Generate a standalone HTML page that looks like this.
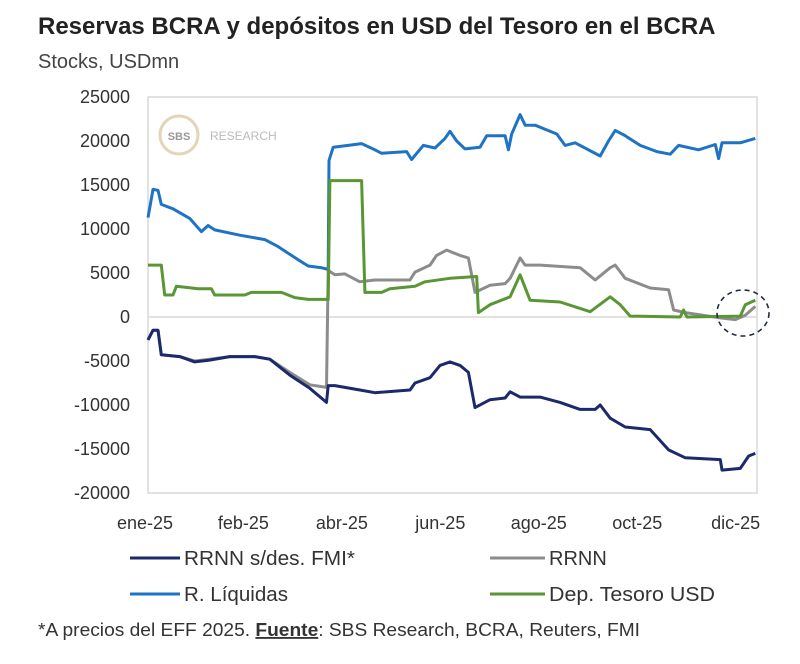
<!DOCTYPE html>
<html><head><meta charset="utf-8"><style>
body{margin:0;width:800px;height:659px;background:#fff;font-family:"Liberation Sans",sans-serif;overflow:hidden}
</style></head><body>
<svg width="800" height="659" xmlns="http://www.w3.org/2000/svg">
<text x="38" y="34" font-size="24" font-weight="bold" fill="#222">Reservas BCRA y depósitos en USD del Tesoro en el BCRA</text>
<text x="38" y="68" font-size="20" fill="#444">Stocks, USDmn</text>
<rect x="148" y="97" width="609" height="396" fill="none" stroke="#d9d9d9" stroke-width="1.5"/>
<g>
<circle cx="179" cy="135" r="19" fill="none" stroke="#e3d6b8" stroke-width="3"/>
<text x="179" y="140" font-size="11" font-weight="bold" fill="#999" text-anchor="middle">SBS</text>
<text x="210" y="140" font-size="12" fill="#bbb">RESEARCH</text>
</g>
<g id="axes"></g>
<g id="series"></g>
<ellipse cx="743" cy="313" rx="26" ry="23" fill="none" stroke="#1f2a44" stroke-width="1.6" stroke-dasharray="5,4"/>
<g>
<line x1="130" y1="558" x2="180" y2="558" stroke="#1b2a6b" stroke-width="3"/>
<text x="184" y="565" font-size="20" fill="#333" textLength="171" lengthAdjust="spacingAndGlyphs">RRNN s/des. FMI*</text>
<line x1="490" y1="558" x2="545" y2="558" stroke="#8c8c8c" stroke-width="3"/>
<text x="549" y="565" font-size="20" fill="#333">RRNN</text>
<line x1="130" y1="594" x2="180" y2="594" stroke="#1e73c4" stroke-width="3"/>
<text x="184" y="601" font-size="20" fill="#333" textLength="104" lengthAdjust="spacingAndGlyphs">R. Líquidas</text>
<line x1="490" y1="594" x2="545" y2="594" stroke="#5a9634" stroke-width="3"/>
<text x="549" y="601" font-size="20" fill="#333" textLength="166" lengthAdjust="spacingAndGlyphs">Dep. Tesoro USD</text>
</g>
<text x="38" y="636" font-size="18.5" fill="#333" textLength="602" lengthAdjust="spacingAndGlyphs">*A precios del EFF 2025. <tspan font-weight="bold" text-decoration="underline">Fuente</tspan>: SBS Research, BCRA, Reuters, FMI</text>
</svg>
<script>
const yTicks=[25000,20000,15000,10000,5000,0,-5000,-10000,-15000,-20000];
const xTickDays=[0,59,118,177,236,295,354];
const xTickLabels=["ene-25","feb-25","abr-25","jun-25","ago-25","oct-25","dic-25"];
const liqDays=[0,3,6,8,15,25,32,36,40,55,70,78,90,96,104,108,108.5,111,120,128,136,140,155,158,165,172,178,181,185,190,199,203,214,216,218,223,226,232,245,250,256,271,276,280,286,295,305,313,318,330,340,342,344,355,364];
const liqVals=[11300,14500,14400,12800,12300,11200,9700,10400,9900,9300,8800,8000,6500,5800,5600,5400,17800,19300,19500,19700,19000,18600,18800,17900,19500,19200,20300,21100,20000,19100,19300,20600,20600,19000,20800,23000,21800,21800,20800,19500,19800,18300,20000,21200,20600,19500,18800,18500,19500,19000,19600,18000,19800,19800,20300];
const depDays=[0,8,10,15,17,30,38,40,58,62,80,88,96,108,109,128,130,140,145,160,166,181,197,198,205,217,223,229,247,265,277,283,289,319,321,323,355,358,364];
const depVals=[5900,5900,2500,2500,3500,3200,3200,2500,2500,2800,2800,2200,2000,2000,15500,15500,2800,2800,3200,3500,4000,4400,4600,500,1400,2300,4800,1900,1700,600,2300,1400,100,0,800,0,100,1400,1900];
const rrnnDays=[0,3,6,8,19,28,37,49,64,73,85,97,107,108,112,118,127,136,157,160,169,173,179,187,192,196,205,214,217,223,226,235,259,268,277,280,286,301,312,315,322,343,352,358,364];
const rrnnVals=[-2600,-1500,-1500,-4300,-4500,-5000,-4800,-4500,-4500,-4800,-6300,-7700,-8000,5300,4800,4900,4000,4200,4200,5100,5900,7000,7600,7000,6700,2800,3600,3800,4400,6700,5900,5900,5600,4200,5600,5900,4400,3300,3100,800,500,-100,-300,200,1200];
const resDays=[0,3,6,8,19,28,37,49,64,73,85,97,107,108,112,127,136,157,160,169,175,181,187,192,196,205,214,217,223,235,247,259,268,271,277,286,301,312,322,343,344,355,360,364];
const resVals=[-2600,-1500,-1500,-4300,-4500,-5100,-4900,-4500,-4500,-4800,-6600,-8100,-9700,-7800,-7800,-8300,-8600,-8300,-7500,-6900,-5500,-5100,-5500,-6300,-10300,-9400,-9200,-8500,-9100,-9100,-9700,-10500,-10500,-10000,-11500,-12500,-12800,-15100,-16000,-16200,-17400,-17200,-15800,-15500];
const X0=148,X1=757,Y0=97,Y1=493,YMAX=25000,YMIN=-20000,DMAX=365;
const xs=d=>X0+(d/DMAX)*(X1-X0);
const ys=v=>Y0+(YMAX-v)/(YMAX-YMIN)*(Y1-Y0);
const NS="http://www.w3.org/2000/svg";
const axes=document.getElementById('axes'),ser=document.getElementById('series');
function mk(t,a,p){const e=document.createElementNS(NS,t);for(const k in a)e.setAttribute(k,a[k]);p.appendChild(e);return e;}
yTicks.forEach(v=>{
 const t=mk('text',{x:130,y:ys(v)+6,'font-size':18,'text-anchor':'end',fill:'#333'},axes);
 t.textContent=v;
 
 
});
const zl=mk('line',{x1:X0,x2:X1,y1:ys(0),y2:ys(0),stroke:'#d9d9d9','stroke-width':1.5},axes);


xTickDays.forEach((d,i)=>{
 const t=mk('text',{x:xs(d)-3,y:529,'font-size':18,'text-anchor':'middle',fill:'#333'},axes);
 t.textContent=xTickLabels[i];
 
 
});
function line(days,vals,col,name){
 const p=mk('path',{d:days.map((d,i)=>(i?'L':'M')+xs(d).toFixed(1)+','+ys(vals[i]).toFixed(1)).join(''),fill:'none',stroke:col,'stroke-width':3,'stroke-linejoin':'round'},ser);
 
 
}
line(rrnnDays,rrnnVals,'#8c8c8c','rrnn-line');
line(resDays,resVals,'#1b2a6b','rrnn-sin-fmi-line');
line(liqDays,liqVals,'#1e73c4','reservas-liquidas-line');
line(depDays,depVals,'#5a9634','dep-tesoro-line');
</script>
</body></html>
